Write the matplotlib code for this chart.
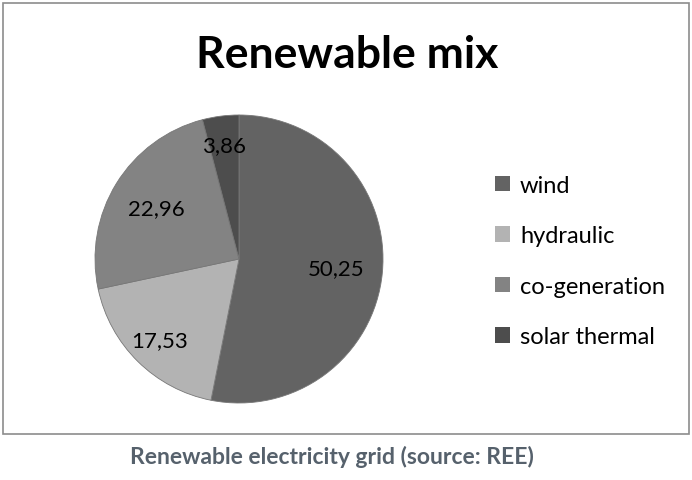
import matplotlib
matplotlib.use('Agg')
import matplotlib.pyplot as plt
from matplotlib.patches import Rectangle, Patch
import numpy as np

# data
labels = ['wind', 'hydraulic', 'co-generation', 'solar thermal']
values = [50.25, 17.53, 22.96, 3.86]
value_text = ['50,25', '17,53', '22,96', '3,86']
colors = ['#636363', '#b3b3b3', '#838383', '#4d4d4d']
label_r = [0.68, 0.79, 0.67, 0.80]

plt.rcParams['font.family'] = ['Lato', 'DejaVu Sans']

W, H = 692, 481
fig = plt.figure(figsize=(W / 100, H / 100), dpi=100)

# chart frame
fig.patches.append(Rectangle((3 / W, (H - 435) / H), 686 / W, 431 / H,
                             transform=fig.transFigure, fill=False,
                             edgecolor='#8c8c8c', linewidth=1.2))

# pie
cx, cy, R = 239, 260, 144
ax = fig.add_axes([(cx - R) / W, (H - cy - R) / H, 2 * R / W, 2 * R / H])
wedges, _ = ax.pie(values, colors=colors, startangle=90, counterclock=False,
                   wedgeprops=dict(linewidth=0.6, edgecolor='#777777'))
for w, txt, r in zip(wedges, value_text, label_r):
    ang = np.deg2rad((w.theta1 + w.theta2) / 2)
    ax.text(r * np.cos(ang), r * np.sin(ang), txt, ha='center', va='center',
            fontsize=16, color='black')
ax.set_xlim(-1, 1)
ax.set_ylim(-1, 1)
ax.set_aspect('equal')
ax.axis('off')

fig.text(347 / W, 1 - 68 / H, 'Renewable mix', ha='center', va='baseline',
         fontsize=32, fontweight='bold', color='black')

handles = [Patch(facecolor=c, edgecolor='none') for c in colors]
fig.legend(handles, labels, loc='center left', bbox_to_anchor=(483 / W, 1 - 262 / H),
           frameon=False, fontsize=17, handlelength=0.65, handleheight=0.65,
           handletextpad=0.42, labelspacing=1.25, borderpad=0.0)

fig.text(332 / W, 1 - 464 / H, 'Renewable electricity grid (source: REE)',
         ha='center', va='baseline', fontsize=16.5, fontweight='bold', color='#56616c')

fig.savefig('out.png', dpi=100)
